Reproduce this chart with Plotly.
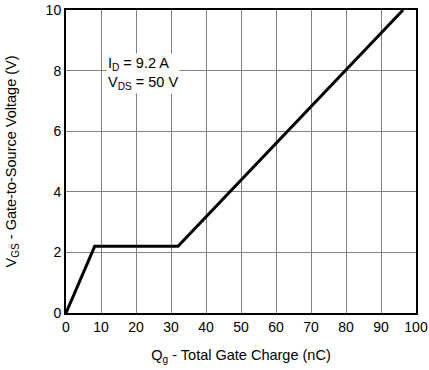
import plotly.graph_objects as go

qg = [0, 8.2, 32, 96.3]
vgs = [0, 2.2, 2.2, 10]
x_ticks = [0, 10, 20, 30, 40, 50, 60, 70, 80, 90, 100]
y_ticks = [0, 2, 4, 6, 8, 10]

FONT = "Liberation Sans, Arial"

fig = go.Figure()
fig.add_trace(go.Scatter(x=qg, y=vgs, mode="lines",
                         line=dict(color="black", width=3), showlegend=False,
                         hoverinfo="skip"))

fig.add_annotation(x=11.3, y=7.9, xref="x", yref="y", xanchor="left", yanchor="middle",
                   text="I<sub>D</sub> = 9.2 A<br>V<sub>DS</sub> = 50 V", showarrow=False,
                   align="left", bgcolor="white", borderpad=1,
                   font=dict(family=FONT, size=14.5, color="black"))

axis_common = dict(showgrid=True, gridcolor="#808080", gridwidth=1.3,
                   showline=True, linecolor="black", linewidth=2, mirror=True,
                   zeroline=False, ticks="", automargin=False,
                   tickfont=dict(family=FONT, size=14, color="black"))

fig.update_xaxes(range=[0, 100], tickvals=x_ticks, **axis_common,
                 title=dict(text="Q<sub>g</sub> - Total Gate Charge (nC)", standoff=16,
                            font=dict(family=FONT, size=14.5, color="black")))
fig.update_yaxes(range=[0, 10], tickvals=y_ticks, **axis_common,
                 title=dict(text="V<sub>GS</sub> - Gate-to-Source Voltage (V)", standoff=26,
                            font=dict(family=FONT, size=14.5, color="black")))

fig.update_layout(width=429, height=370, margin=dict(l=66, r=13, t=10, b=57),
                  plot_bgcolor="white", paper_bgcolor="white")

fig.write_html("out.html", config={"displayModeBar": False},
               post_script="document.body.style.margin='0';document.body.style.overflow='hidden';")
